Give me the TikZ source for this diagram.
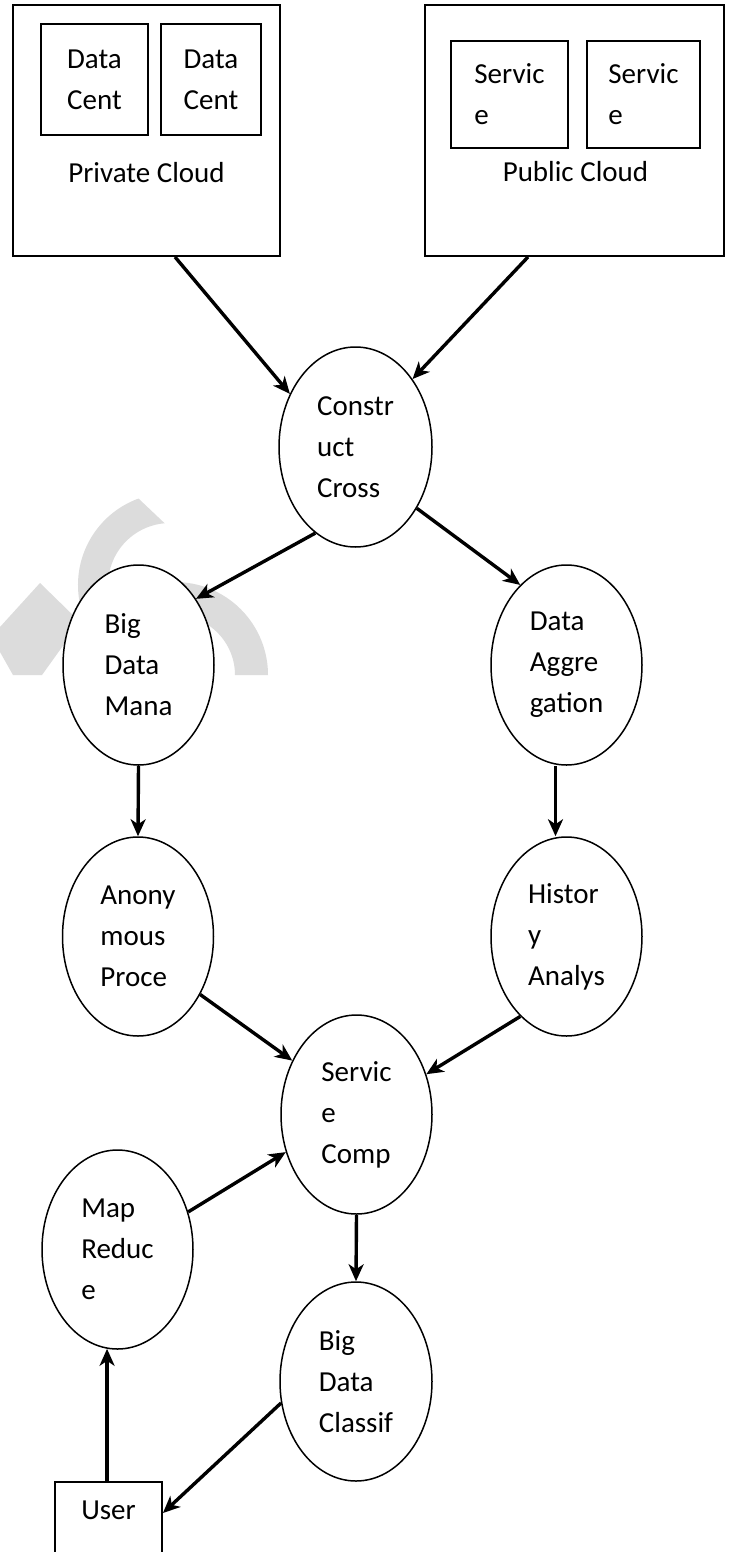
\documentclass[tikz,border=0pt]{standalone}
\usepackage{fontspec}
\setmainfont{Carlito}
\usetikzlibrary{arrows.meta,shapes.geometric,calc}
\definecolor{wmgray}{HTML}{DCDCDC}
\begin{document}
\begin{tikzpicture}[x=1pt,y=1pt,
  every node/.style={font=\fontsize{29}{41}\selectfont},
  cbox/.style={draw, line width=1.9pt, rectangle, inner sep=0pt, align=left},
  oval/.style={draw, ellipse, line width=1.5pt, fill=white, inner sep=0pt,
               minimum width=151pt, minimum height=200pt, align=left},
  flow/.style={line width=3.4pt, -{Stealth[length=17pt,width=15pt,inset=5pt]}},
  wmark/.style={fill=wmgray, draw=none}]
\clip (0,0) rectangle (730,-1552);
\fill[white] (0,0) rectangle (730,-1552);

% faint background mark behind the left branch
\fill[wmark] (170,-585) ++(110:92) arc[start angle=110,end angle=190,radius=92]
   -- ($(170,-585)+(190:62)$) arc[start angle=190,end angle=95,radius=62] -- cycle;
\fill[wmark] (175,-675) ++(0:93) arc[start angle=0,end angle=110,radius=93]
   -- ($(175,-675)+(110:60)$) arc[start angle=110,end angle=0,radius=60] -- cycle;
\fill[wmark] (40,-583) -- (80,-622) -- (42,-675) -- (13,-675) -- (0,-652) -- (0,-627) -- cycle;

% cloud containers
\node[cbox, minimum width=267pt, minimum height=251pt] (priv) at (146.5,-130.5) {};
\node[cbox, minimum width=107pt, minimum height=111pt] (dc1) at (94.5,-79.5) {Data\\Cent};
\node[cbox, minimum width=100pt, minimum height=111pt] (dc2) at (211,-79.5) {Data\\Cent};
\node (privlbl) at (146.5,-172.5) {Private Cloud};

\node[cbox, minimum width=299pt, minimum height=251pt] (pub) at (574.5,-130.5) {};
\node[cbox, minimum width=117pt, minimum height=107pt] (sv1) at (509.5,-94.5) {Servic\\e};
\node[cbox, minimum width=113pt, minimum height=107pt] (sv2) at (643.5,-94.5) {Servic\\e};
\node (publbl) at (575.5,-172) {Public Cloud};

% processing stages
\node[oval, minimum width=153pt] (cc) at (355.5,-447) {Constr\\uct\\Cross};
\node[oval] (bdm) at (138.5,-665) {Big\\Data\\Mana};
\node[oval] (dag) at (566.5,-665) {Data\\Aggre\\gation};
\node[oval, minimum height=199pt] (anon) at (138,-936.5) {Anony\\mous\\Proce};
\node[oval, minimum height=199pt] (hist) at (566.5,-936.5) {Histor\\y\\Analys};
\node[oval, minimum height=199pt] (svc) at (356.5,-1114.5) {Servic\\e\\Comp};
\node[oval, minimum height=199pt] (mr) at (117.5,-1249.5) {Map\\Reduc\\e};
\node[oval, minimum width=152pt, minimum height=199pt] (bdc) at (356,-1381.5) {Big\\Data\\Classif};

% user terminal (runs off the bottom edge)
\node[cbox, anchor=north, minimum width=107pt, text height=38pt, text depth=80pt]
  (user) at (108.5,-1481) {User};

% connectors
\draw[flow] ([xshift=28.5pt]priv.south) -- (cc.141);
\draw[flow] ([xshift=-46.5pt]pub.south) -- (cc.50);
\draw[flow] (cc.245) -- (bdm.49);
\draw[flow] (cc.315) -- (dag.120);
\draw[flow] (bdm.south) -- (anon.north);
\draw[flow] ([xshift=-11pt]dag.south) -- ([xshift=-11pt]hist.north);
\draw[flow] (anon.317) -- (svc.140);
\draw[flow] (hist.240) -- (svc.30);
\draw[flow] (mr.28) -- (svc.208);
\draw[flow] (svc.south) -- (bdc.north);
\draw[flow] (bdc.196) -- ([yshift=-32pt]user.north east);
\draw[flow] (mr.264 |- user.north) -- (mr.264);
\end{tikzpicture}
\end{document}
